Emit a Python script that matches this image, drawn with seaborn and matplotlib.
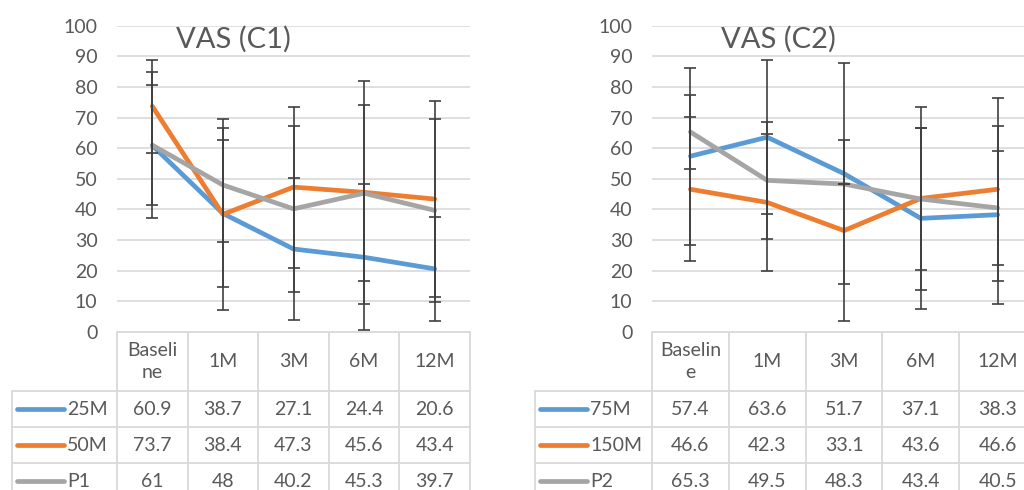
import pandas as pd
import seaborn as sns
import matplotlib.pyplot as plt

W, H = 1024, 490

categories = ["Baseline", "1M", "3M", "6M", "12M"]
header_c1 = ["Baseli\nne", "1M", "3M", "6M", "12M"]
header_c2 = ["Baselin\ne", "1M", "3M", "6M", "12M"]

c1_names = ["25M", "50M", "P1"]
c1_25m = [60.9, 38.7, 27.1, 24.4, 20.6]
c1_50m = [73.7, 38.4, 47.3, 45.6, 43.4]
c1_p1 = [61, 48, 40.2, 45.3, 39.7]
c1_25m_sd = [19.6, 23.9, 23.1, 23.8, 17.1]
c1_50m_sd = [15.1, 31.3, 26.3, 36.4, 32.0]
c1_p1_sd = [23.8, 18.5, 27.2, 28.7, 30.0]

c2_names = ["75M", "150M", "P2"]
c2_75m = [57.4, 63.6, 51.7, 37.1, 38.3]
c2_150m = [46.6, 42.3, 33.1, 43.6, 46.6]
c2_p2 = [65.3, 49.5, 48.3, 43.4, 40.5]
c2_75m_sd = [28.9, 25.2, 36.0, 29.5, 29.0]
c2_150m_sd = [23.5, 22.5, 29.5, 29.8, 29.9]
c2_p2_sd = [12.1, 19.2, 0.0, 23.3, 18.6]

colors = ["#5B9BD5", "#ED7D31", "#A5A5A5"]
txt = "#595959"
grid = "#D9D9D9"

sns.set_style("white")
plt.rcParams["font.family"] = ["Lato", "DejaVu Sans"]

fig = plt.figure(figsize=(W / 100, H / 100), dpi=100)
over = fig.add_axes([0, 0, 1, 1], zorder=10)
over.set_xlim(0, W)
over.set_ylim(H, 0)
over.axis("off")
over.patch.set_alpha(0)

top, base = 25.7, 332


def panel(left, colw, lab_left, title, title_x, names, series, sds, header):
    ax = fig.add_axes([left / W, 1 - base / H, 5 * colw / W, (base - top) / H])
    df = pd.DataFrame({
        "time": categories * len(names),
        "VAS": sum(series, []),
        "group": [n for n in names for _ in categories],
    })
    sns.lineplot(data=df, x="time", y="VAS", hue="group", palette=colors,
                 linewidth=3.4, legend=False, sort=False, ax=ax, zorder=3)
    for vals, sd in zip(series, sds):
        ax.errorbar(range(len(categories)), vals, yerr=sd, fmt="none",
                    ecolor="#404040", elinewidth=1.2, capsize=4, capthick=1.2, zorder=5)
    ax.set_xlim(-0.5, 4.5)
    ax.set_ylim(0, 100)
    ax.set_yticks(range(0, 101, 10))
    ax.set_xticks([])
    ax.set_xlabel("")
    ax.set_ylabel("")
    ax.tick_params(axis="y", length=0, pad=14, labelsize=14, labelcolor=txt)
    for y in range(10, 101, 10):
        ax.axhline(y, color=grid, lw=1.2, zorder=1)
    for s in ax.spines.values():
        s.set_visible(False)
    ax.text(title_x, 95.5, title, ha="center", va="center", fontsize=21, color=txt)

    # data table
    right = left + 5 * colw
    rows = [332, 391, 427, 463, 499]
    over.plot([left, right], [rows[0], rows[0]], color=grid, lw=1.3)
    for y in rows[1:4]:
        over.plot([lab_left, right], [y, y], color=grid, lw=1.3)
    over.plot([lab_left, lab_left], [rows[1], H], color=grid, lw=1.3)
    for i in range(6):
        x = left + i * colw
        over.plot([x, x], [rows[0], H], color=grid, lw=1.3)
    for i, h in enumerate(header):
        over.text(left + (i + 0.5) * colw, (rows[0] + rows[1]) / 2, h, ha="center",
                  va="center", fontsize=14, color=txt, linespacing=1.35)
    for r, (n, vals) in enumerate(zip(names, series)):
        yc = (rows[r + 1] + rows[r + 2]) / 2
        over.plot([lab_left + 5, lab_left + 52], [yc, yc], color=colors[r], lw=3.4,
                  solid_capstyle="round")
        over.text(lab_left + 55, yc, n, ha="left", va="center", fontsize=14, color=txt)
        for i, v in enumerate(vals):
            over.text(left + (i + 0.5) * colw, yc, f"{v:g}", ha="center", va="center",
                      fontsize=14, color=txt)
    return ax


panel(117, 70.6, 12, "VAS (C1)", 1.15, c1_names,
      [c1_25m, c1_50m, c1_p1], [c1_25m_sd, c1_50m_sd, c1_p1_sd], header_c1)
panel(652, 76.8, 535, "VAS (C2)", 1.14, c2_names,
      [c2_75m, c2_150m, c2_p2], [c2_75m_sd, c2_150m_sd, c2_p2_sd], header_c2)

fig.savefig("out.png", dpi=100, facecolor="white")
